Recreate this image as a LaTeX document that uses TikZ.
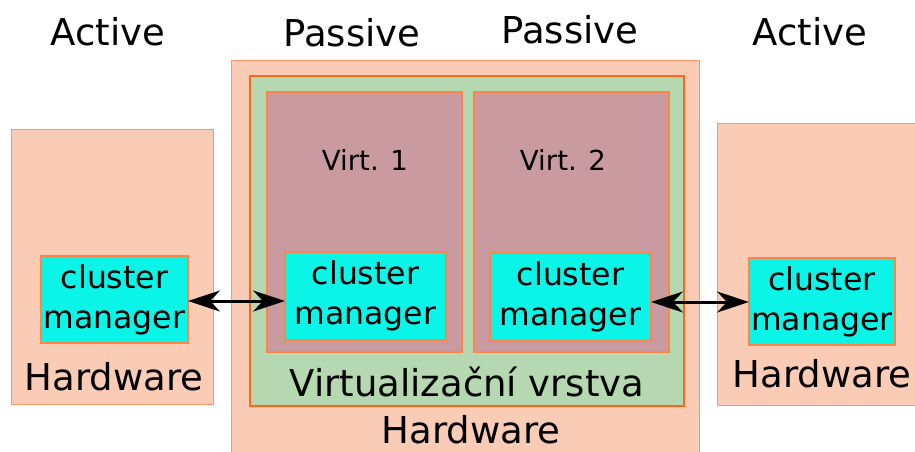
\documentclass[tikz,border=0pt]{standalone}
\usepackage{fontspec}
\setmainfont{DejaVu Sans}
\usetikzlibrary{arrows.meta}
\definecolor{hwfill}{HTML}{FACCB5}
\definecolor{hwdraw}{HTML}{FF9466}
\definecolor{vfill}{HTML}{B5D8B0}
\definecolor{vdraw}{HTML}{FF6619}
\definecolor{mfill}{HTML}{C99AA0}
\definecolor{cmfill}{HTML}{0AF5E8}
\tikzset{
  box/.style={draw, rectangle, inner sep=0pt, outer sep=0pt},
  hwbox/.style={box, fill=hwfill, draw=hwdraw, line width=1pt},
  vbox/.style={box, fill=vfill, draw=vdraw, line width=1.8pt},
  vmbox/.style={box, fill=mfill, draw=vdraw!80, line width=1.2pt},
  cmbox/.style={box, fill=cmfill, draw=vdraw!80, line width=1.2pt, align=center,
     font=\fontsize{31.5}{40}\selectfont},
  big/.style={font=\fontsize{37}{44}\selectfont, inner sep=0pt},
  mid/.style={font=\fontsize{27.6}{33}\selectfont, inner sep=0pt},
  link/.style={line width=3pt, {Stealth[length=32pt,width=21pt,inset=10pt]}-{Stealth[length=32pt,width=21pt,inset=10pt]}}
}
\begin{document}
\begin{tikzpicture}[x=1pt,y=-1pt]
\useasboundingbox (0,0) rectangle (915,452);
% left hardware
\node[hwbox, minimum width=202pt, minimum height=275pt] (hwL) at (112,266.5) {};
% middle hardware
\node[hwbox, minimum width=468pt, minimum height=402pt] (hwM) at (465,262) {};
% right hardware
\node[hwbox, minimum width=200pt, minimum height=282pt] (hwR) at (817,264) {};
% virtualization layer
\node[vbox, minimum width=434pt, minimum height=330pt] (vl) at (467,241) {};
% VMs
\node[vmbox, minimum width=195pt, minimum height=260pt] (vm1) at (364.5,222) {};
\node[vmbox, minimum width=195pt, minimum height=260pt] (vm2) at (571.5,222) {};
% cluster managers
\node[cmbox, minimum width=147pt, minimum height=87pt] (cmL) at (114.5,299.5) {cluster\\manager};
\node[cmbox, minimum width=161pt, minimum height=88pt] (cm1) at (365.5,296) {cluster\\manager};
\node[cmbox, minimum width=161pt, minimum height=88pt] (cm2) at (570.5,297) {cluster\\manager};
\node[cmbox, minimum width=146pt, minimum height=87pt] (cmR) at (822,301.5) {cluster\\manager};
% labels
\node[big] (a1) at (108,32) {Active};
\node[big] (p1) at (352,33) {Passive};
\node[big] (p2) at (570,30) {Passive};
\node[big] (a2) at (810,32) {Active};
\node[big] (hLt) at (114,377) {Hardware};
\node[big] (hRt) at (822,374) {Hardware};
\node[big] (hMt) at (471,430) {Hardware};
\node[big] (vlt) at (467,382) {Virtualizační vrstva};
\node[mid] (v1t) at (365,160) {Virt. 1};
\node[mid] (v2t) at (563,160) {Virt. 2};
% links
\draw[link] (cmL.east |- 0,301) -- (cm1.west |- 0,301);
\draw[link] (cm2.east |- 0,302) -- (cmR.west |- 0,302);
\end{tikzpicture}
\end{document}
